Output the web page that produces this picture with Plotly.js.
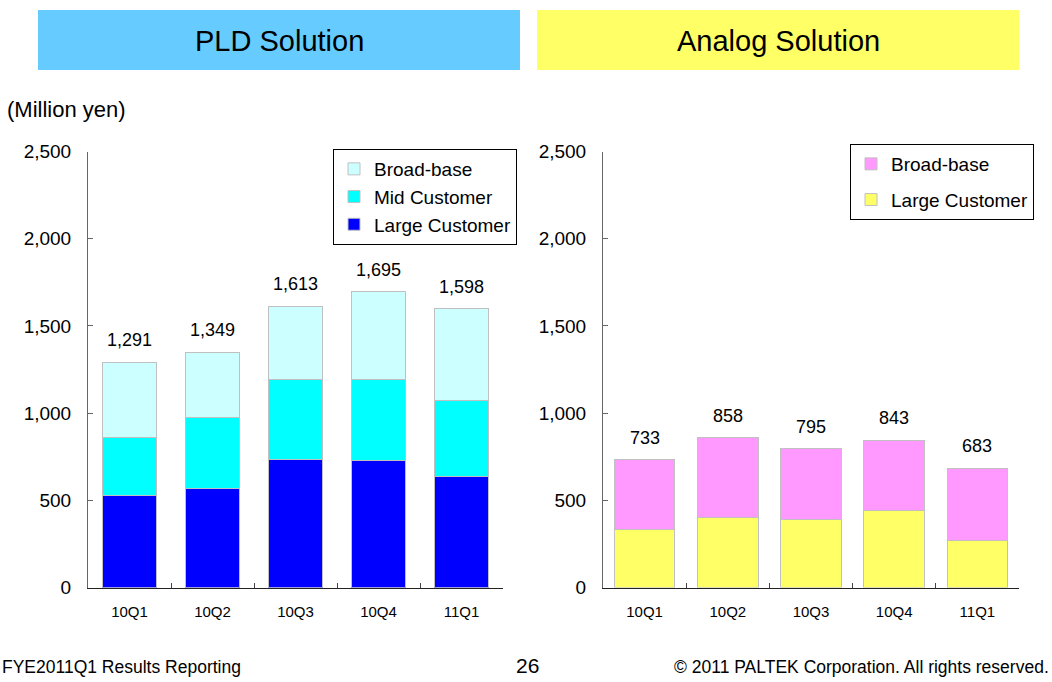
<!DOCTYPE html>
<html>
<head>
<meta charset="utf-8">
<script src="https://cdn.plot.ly/plotly-3.0.1.min.js"></script>
<style>html,body{margin:0;padding:0;background:#fff;}#chart{width:1052px;height:682px;}</style>
</head>
<body>
<div id="chart"></div>
<script>
const quarters = ["10Q1", "10Q2", "10Q3", "10Q4", "11Q1"];
const pldLarge = [529, 567, 734, 726, 634];
const pldMid = [331, 410, 456, 464, 439];
const pldBroad = [431, 372, 423, 505, 525];
const pldTotal = [1291, 1349, 1613, 1695, 1598];
const anaLarge = [333, 404, 389, 439, 270];
const anaBroad = [400, 454, 406, 404, 413];
const anaTotal = [733, 858, 795, 843, 683];

const FONT = "Arial, 'Liberation Sans', sans-serif";
const line = {color: "#c0c0c0", width: 1};
const W = 1052, H = 682;
const px = v => v / W;
const py = v => (H - v) / H;

const traces = [
  {type: "bar", name: "Large Customer", x: quarters, y: pldLarge, width: 0.66, marker: {color: "#0000FF", line}, xaxis: "x", yaxis: "y", legend: "legend"},
  {type: "bar", name: "Mid Customer", x: quarters, y: pldMid, width: 0.66, marker: {color: "#00FFFF", line}, xaxis: "x", yaxis: "y", legend: "legend"},
  {type: "bar", name: "Broad-base", x: quarters, y: pldBroad, width: 0.66, marker: {color: "#CCFFFF", line}, xaxis: "x", yaxis: "y", legend: "legend"},
  {type: "bar", name: "Large Customer", x: quarters, y: anaLarge, width: 0.73, marker: {color: "#FFFF66", line}, xaxis: "x2", yaxis: "y2", legend: "legend2", legendgroup: "a", legendrank: 2},
  {type: "bar", name: "Broad-base", x: quarters, y: anaBroad, width: 0.73, marker: {color: "#FF99FF", line}, xaxis: "x2", yaxis: "y2", legend: "legend2", legendgroup: "b", legendrank: 1}
];

const annotations = [];
quarters.forEach((q, i) => {
  annotations.push({x: q, y: pldTotal[i], xref: "x", yref: "y", text: pldTotal[i].toLocaleString("en-US"), showarrow: false, yshift: 22, font: {size: 18, color: "#000", family: FONT}});
  annotations.push({x: q, y: anaTotal[i], xref: "x2", yref: "y2", text: anaTotal[i].toLocaleString("en-US"), showarrow: false, yshift: 22, font: {size: 18, color: "#000", family: FONT}});
});
annotations.push(
  {x: px(279), y: py(41), xref: "paper", yref: "paper", xanchor: "center", yanchor: "middle", text: "PLD Solution", showarrow: false, font: {size: 29, color: "#000", family: FONT}},
  {x: px(778), y: py(41), xref: "paper", yref: "paper", xanchor: "center", yanchor: "middle", text: "Analog Solution", showarrow: false, font: {size: 29, color: "#000", family: FONT}},
  {x: px(5), y: py(110), xref: "paper", yref: "paper", xanchor: "left", yanchor: "middle", text: "(Million yen)", showarrow: false, font: {size: 22, color: "#000", family: FONT}},
  {x: px(0), y: py(667), xref: "paper", yref: "paper", xanchor: "left", yanchor: "middle", text: "FYE2011Q1 Results Reporting", showarrow: false, font: {size: 17.5, color: "#000", family: FONT}},
  {x: px(527), y: py(665), xref: "paper", yref: "paper", xanchor: "center", yanchor: "middle", text: "26", showarrow: false, font: {size: 21, color: "#000", family: FONT}},
  {x: px(1051), y: py(667), xref: "paper", yref: "paper", xanchor: "right", yanchor: "middle", text: "© 2011 PALTEK Corporation. All rights reserved.", showarrow: false, font: {size: 17.5, color: "#000", family: FONT}}
);

const yax = {range: [0, 2500], dtick: 500, tickformat: ",", showgrid: false, zeroline: false, showline: true, linecolor: "#666", linewidth: 1, ticks: "inside", ticklen: 5, tickcolor: "#666", ticklabelstandoff: 12, tickfont: {size: 19, color: "#000", family: FONT}, fixedrange: true};
const xax = {showgrid: false, showline: true, linecolor: "#222", linewidth: 1.5, ticks: "inside", tickson: "boundaries", ticklen: 5, tickcolor: "#444", ticklabelstandoff: 10, tickfont: {size: 15, color: "#000", family: FONT}, fixedrange: true};
const legendBase = {xanchor: "left", yanchor: "top", bordercolor: "#000", borderwidth: 1, bgcolor: "#fff", font: {size: 19, color: "#000", family: FONT}, itemwidth: 30};

const layout = {
  width: W, height: H, autosize: false,
  margin: {l: 0, r: 0, t: 0, b: 0},
  paper_bgcolor: "#fff", plot_bgcolor: "#fff",
  font: {family: FONT, color: "#000"},
  barmode: "stack",
  showlegend: true,
  xaxis: Object.assign({}, xax, {domain: [px(88), px(503)], anchor: "y"}),
  yaxis: Object.assign({}, yax, {domain: [py(587.5), py(151.5)], anchor: "x"}),
  xaxis2: Object.assign({}, xax, {domain: [px(603), px(1019)], anchor: "y2"}),
  yaxis2: Object.assign({}, yax, {domain: [py(587.5), py(151.5)], anchor: "x2"}),
  legend: Object.assign({}, legendBase, {x: px(333), y: py(149), traceorder: "reversed"}),
  legend2: Object.assign({}, legendBase, {x: px(850), y: py(144), traceorder: "grouped", tracegroupgap: 8}),
  shapes: [
    {type: "rect", xref: "paper", yref: "paper", x0: px(38), x1: px(520), y0: py(70), y1: py(10), fillcolor: "#66CCFF", line: {width: 0}, layer: "below"},
    {type: "rect", xref: "paper", yref: "paper", x0: px(537), x1: px(1019), y0: py(70), y1: py(10), fillcolor: "#FFFF66", line: {width: 0}, layer: "below"}
  ],
  annotations
};

Plotly.newPlot("chart", traces, layout, {displayModeBar: false, staticPlot: true});
</script>
</body>
</html>
